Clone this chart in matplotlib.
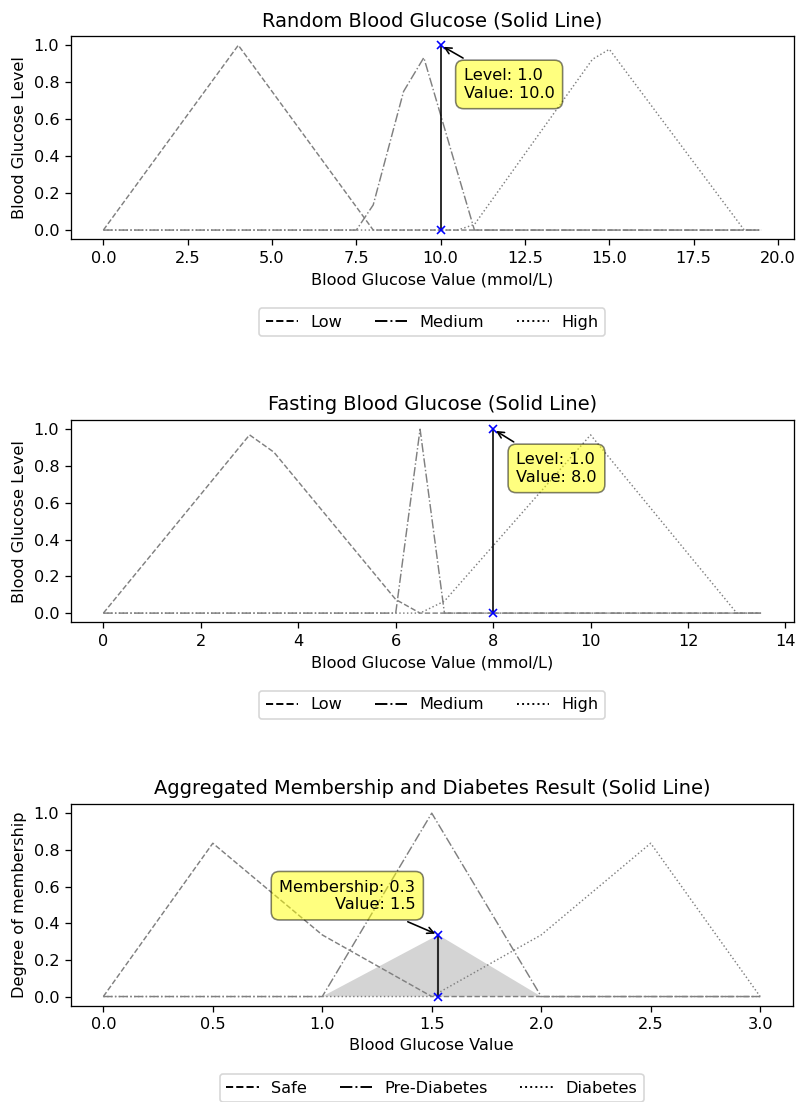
import matplotlib
matplotlib.use("Agg")
import matplotlib.pyplot as plt
from matplotlib.lines import Line2D

# ---------------- data ----------------
# Random blood glucose memberships (knots)
rbg_low_x = [0, 4, 8, 19.5]
rbg_low_y = [0, 1.0, 0, 0]
rbg_med_x = [0, 7.5, 8, 8.9, 9.5, 11, 19.5]
rbg_med_y = [0, 0, 0.136, 0.75, 0.933, 0, 0]
rbg_high_x = [0, 10.5, 11, 14.5, 15, 19, 19.5]
rbg_high_y = [0, 0, 0.03, 0.924, 0.978, 0, 0]
rbg_value = 10.0
rbg_level = 1.0

# Fasting blood glucose memberships (knots)
fbg_low_x = [0, 3, 3.5, 6, 6.5, 13.5]
fbg_low_y = [0, 0.969, 0.875, 0.074, 0, 0]
fbg_med_x = [0, 6, 6.5, 7, 13.5]
fbg_med_y = [0, 0, 1.0, 0, 0]
fbg_high_x = [0, 6.5, 7, 10, 13, 13.5]
fbg_high_y = [0, 0, 0.065, 0.969, 0, 0]
fbg_value = 8.0
fbg_level = 1.0

# Aggregated output memberships (knots)
out_safe_x = [0, 0.5, 1.0, 1.5, 3.0]
out_safe_y = [0, 0.836, 0.336, 0, 0]
out_pre_x = [0, 1.0, 1.5, 2.0, 3.0]
out_pre_y = [0, 0, 1.0, 0, 0]
out_dia_x = [0, 1.5, 2.0, 2.5, 3.0]
out_dia_y = [0, 0, 0.336, 0.836, 0]
agg_x = [1.0, 1.53, 2.0]
agg_y = [0, 0.336, 0]
result_value = 1.53
result_membership = 0.336

in_labels = ["Low", "Medium", "High"]
out_labels = ["Safe", "Pre-Diabetes", "Diabetes"]

# ---------------- figure ----------------
W, H = 798, 1102
DPI = 116
fig = plt.figure(figsize=(W / DPI, H / DPI), dpi=DPI)


def axes_px(left, top, right, bottom):
    return fig.add_axes([left / W, 1 - bottom / H, (right - left) / W, (bottom - top) / H])


ax1 = axes_px(70.5, 36, 794, 239.3)
ax2 = axes_px(70.5, 420, 794, 622.3)
ax3 = axes_px(70.5, 804, 793, 1005.7)

line_kw = dict(color="gray", linewidth=0.9)
styles = ["--", "-.", ":"]
bbox_kw = dict(boxstyle="round,pad=0.5", fc="yellow", ec="black", alpha=0.5)


def legend_handles(labels):
    return [Line2D([0], [0], color="black", linestyle=s, linewidth=1.2, label=l)
            for s, l in zip(styles, labels)]


# Axes 1
ax1.plot(rbg_low_x, rbg_low_y, linestyle="--", **line_kw)
ax1.plot(rbg_med_x, rbg_med_y, linestyle="-.", **line_kw)
ax1.plot(rbg_high_x, rbg_high_y, linestyle=":", **line_kw)
ax1.plot([rbg_value, rbg_value], [0, rbg_level], color="black", linewidth=1.0)
ax1.plot([rbg_value, rbg_value], [0, rbg_level], "bx", markersize=5)
ax1.annotate(f"Level: {rbg_level:.1f}\nValue: {rbg_value:.1f}",
             xy=(rbg_value, rbg_level), xytext=(23, -23), textcoords="offset pixels",
             ha="left", va="top", fontsize=10, bbox=bbox_kw,
             arrowprops=dict(arrowstyle="->", color="black", lw=1.0))
ax1.set_title("Random Blood Glucose (Solid Line)")
ax1.set_xlabel("Blood Glucose Value (mmol/L)")
ax1.set_ylabel("Blood Glucose Level")
ax1.legend(handles=legend_handles(in_labels), loc="upper center",
           bbox_to_anchor=(0.5, -0.3), ncol=3)

# Axes 2
ax2.plot(fbg_low_x, fbg_low_y, linestyle="--", **line_kw)
ax2.plot(fbg_med_x, fbg_med_y, linestyle="-.", **line_kw)
ax2.plot(fbg_high_x, fbg_high_y, linestyle=":", **line_kw)
ax2.plot([fbg_value, fbg_value], [0, fbg_level], color="black", linewidth=1.0)
ax2.plot([fbg_value, fbg_value], [0, fbg_level], "bx", markersize=5)
ax2.annotate(f"Level: {fbg_level:.1f}\nValue: {fbg_value:.1f}",
             xy=(fbg_value, fbg_level), xytext=(23, -23), textcoords="offset pixels",
             ha="left", va="top", fontsize=10, bbox=bbox_kw,
             arrowprops=dict(arrowstyle="->", color="black", lw=1.0))
ax2.set_title("Fasting Blood Glucose (Solid Line)")
ax2.set_xlabel("Blood Glucose Value (mmol/L)")
ax2.set_ylabel("Blood Glucose Level")
ax2.legend(handles=legend_handles(in_labels), loc="upper center",
           bbox_to_anchor=(0.5, -0.3), ncol=3)

# Axes 3
ax3.fill_between(agg_x, 0, agg_y, facecolor="#d4d4d4", edgecolor="none")
ax3.plot(out_safe_x, out_safe_y, linestyle="--", **line_kw)
ax3.plot(out_pre_x, out_pre_y, linestyle="-.", **line_kw)
ax3.plot(out_dia_x, out_dia_y, linestyle=":", **line_kw)
ax3.plot([result_value, result_value], [0, result_membership], color="black",
         linewidth=1.3, alpha=0.8)
ax3.plot([result_value, result_value], [0, result_membership], "bx", markersize=5)
ax3.annotate(f"Membership: {result_membership:.1f}\nValue: {result_value:.1f}",
             xy=(result_value, result_membership), xytext=(-23, 23),
             textcoords="offset pixels", ha="right", va="bottom", multialignment="right",
             fontsize=10, bbox=bbox_kw,
             arrowprops=dict(arrowstyle="->", color="black", lw=1.0))
ax3.set_title("Aggregated Membership and Diabetes Result (Solid Line)")
ax3.set_xlabel("Blood Glucose Value")
ax3.set_ylabel("Degree of membership")
ax3.legend(handles=legend_handles(out_labels), loc="upper center",
           bbox_to_anchor=(0.5, -0.3), ncol=3)

fig.savefig("out.png", dpi=DPI)
